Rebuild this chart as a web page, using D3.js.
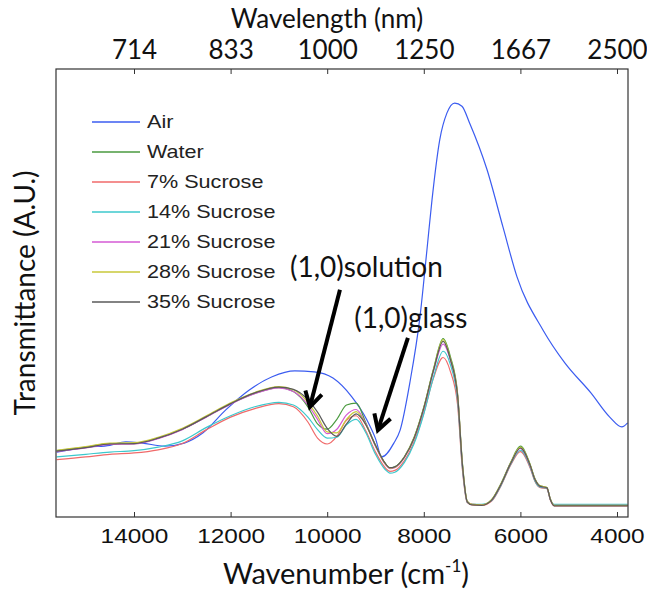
<!DOCTYPE html>
<html lang="en">
<head>
<meta charset="UTF-8">
<title>Transmittance spectra</title>
<script src="https://d3js.org/d3.v7.min.js"></script>
<style>
  body { margin: 0; background: #fff; }
  .title { font-family: Lato, sans-serif; fill: #111; }
  .tick text { font-family: 'Liberation Sans', Arial, sans-serif; fill: #111; }
  .top .tick text { font-family: Lato, sans-serif; }
  .legend text { font-family: 'Liberation Sans', Arial, sans-serif; fill: #222; }
</style>
</head>
<body>
<script>
const width = 647;
const height = 592;

// tick values (wavenumber, cm-1) and the matching wavelength labels (nm)
const bottomTicks = [14000, 12000, 10000, 8000, 6000, 4000];
const wavelengthLabels = ["714", "833", "1000", "1250", "1667", "2500"];

const seriesNames = ["Air", "Water", "7% Sucrose", "14% Sucrose", "21% Sucrose", "28% Sucrose", "35% Sucrose"];
const seriesColors = ["#3b5cf0", "#4a9a3f", "#f06a6a", "#3cc8cc", "#d45ad4", "#c8c83a", "#5a5a5a"];

// air spectrum
const airWavenumbers = [15600,14950,14500,14170,13830,13360,12960,12570,12100,11620,11140,10670,10270,9880,9490,9180,9000,8870,8620,8490,8290,8080,7935,7830,7670,7520,7360,7210,7050,6690,6360,6070,5530,5080,4540,4150,3900,3780];
const airValues = [14.5,15.6,16.0,16.8,16.5,15.8,16.5,18.8,23.9,28.3,31.3,32.6,32.4,31.0,26.8,21.7,17.5,13.4,16.5,19.4,29.9,44.6,59.6,70.8,84.2,90.2,92.4,91.7,87.9,77.5,64.7,53.6,41.7,34.4,27.7,22.3,20.1,21.0];

// liquid samples, shared wavenumber grid
const wavenumbers = [15600,15000,14500,14000,13500,13000,12500,12000,11500,11000,10700,10400,10200,10000,9800,9600,9400,9200,9000,8800,8700,8600,8400,8200,8000,7800,7600,7450,7300,7200,7100,7000,6800,6600,6400,6200,6000,5800,5700,5600,5450,5380,5300,5000,4500,4000,3780];
const water = [14.8,15.6,16.4,16.4,17.6,19.6,22.4,25.3,27.6,28.9,28.0,24.6,20.8,19.6,21.8,25.0,25.4,21.0,16.0,12.0,11.0,11.2,13.5,17.8,24.5,33.0,39.8,35.8,27.5,12.0,3.5,2.8,2.7,3.8,7.5,12.2,15.8,11.8,8.6,7.0,6.6,4.0,2.6,2.6,2.6,2.6,2.6];
const sucrose7 = [12.8,13.4,14.0,14.3,15.0,16.4,19.5,22.3,24.2,25.3,24.6,21.2,17.6,16.3,18.0,21.6,22.6,19.2,14.5,11.0,10.2,10.4,12.6,16.8,23.2,31.0,35.6,32.5,25.0,10.5,3.2,2.7,2.6,3.5,7.0,11.6,14.6,11.0,8.0,6.6,6.3,3.8,2.5,2.5,2.5,2.5,2.5];
const sucrose14 = [13.4,14.0,14.5,14.8,15.6,17.0,20.0,22.6,24.6,25.6,25.0,22.3,19.5,17.6,17.8,20.6,21.8,18.8,14.0,10.6,9.8,10.0,12.2,16.4,23.0,31.2,37.0,34.0,26.0,11.0,3.3,2.8,2.8,3.6,7.1,11.8,14.9,11.2,8.1,6.7,6.4,3.9,2.8,2.8,2.8,2.8,2.8];
const sucrose21 = [14.6,15.4,16.2,16.3,17.5,19.5,22.3,25.2,27.5,28.8,28.0,25.0,21.8,18.6,19.6,22.8,24.0,20.8,15.8,11.8,10.8,11.0,13.3,17.5,24.1,32.5,38.6,35.0,27.0,11.5,3.4,2.8,2.7,3.7,7.3,12.0,15.3,11.5,8.4,6.9,6.5,3.9,2.6,2.6,2.6,2.6,2.6];
const sucrose28 = [14.9,15.7,16.5,16.6,17.8,19.8,22.6,25.5,27.8,29.1,28.4,25.6,22.5,19.0,18.8,21.8,23.5,20.6,15.9,11.9,10.9,11.1,13.4,17.7,24.4,32.9,39.6,35.4,27.2,11.8,3.5,2.8,2.7,3.8,7.4,12.1,15.6,11.7,8.5,7.0,6.6,4.0,2.6,2.6,2.6,2.6,2.6];
const sucrose35 = [14.7,15.5,16.3,16.4,17.6,19.6,22.4,25.3,27.7,29.0,28.5,26.2,23.4,19.8,18.0,20.8,23.0,20.6,16.0,12.0,11.0,11.2,13.4,17.6,24.3,32.7,39.2,35.2,27.0,11.6,3.4,2.7,2.6,3.7,7.3,12.0,15.4,11.6,8.4,6.9,6.5,3.9,2.5,2.5,2.5,2.5,2.5];

// annotations: label anchor, arrow tail and tip, all in (wavenumber, value)
const notes = [
    {text: "(1,0)solution", at: [10770, 53.6], from: [9736, 50.7], to: [10357, 24.6]},
    {text: "(1,0)glass", at: [9440, 42.2], from: [8329, 40.0], to: [8950, 19.4]}
];

const plot = {left: 56, right: 628, top: 69, bottom: 517};

const x = d3.scaleLinear().domain([15615, 3772]).range([plot.left, plot.right]);
const y = d3.scaleLinear().domain([0, 100]).range([plot.bottom, plot.top]);

const svg = d3.select("body").append("svg").attr("width", width).attr("height", height);

const series = [
    {name: seriesNames[0], color: seriesColors[0], pts: airWavenumbers.map((w,i) => [w, airValues[i]])},
    ...[water, sucrose7, sucrose14, sucrose21, sucrose28, sucrose35].map((vals, k) => ({
        name: seriesNames[k+1], color: seriesColors[k+1], pts: wavenumbers.map((w,i) => [w, vals[i]])
    }))
];

const line = d3.line().x(d => x(d[0])).y(d => y(d[1])).curve(d3.curveMonotoneX);

svg.append("g").selectAll("path")
    .data(series).join("path")
    .attr("d", d => line(d.pts))
    .attr("fill", "none")
    .attr("stroke", d => d.color)
    .attr("stroke-width", 1.2);

// frame
svg.append("rect")
    .attr("x", plot.left).attr("y", plot.top)
    .attr("width", plot.right - plot.left).attr("height", plot.bottom - plot.top)
    .attr("fill", "none").attr("stroke", "#333").attr("stroke-width", 1.2);

// bottom axis, ticks pointing in
const bottomAxis = svg.append("g")
    .attr("transform", `translate(0,${plot.bottom})`)
    .call(d3.axisBottom(x).tickValues(bottomTicks).tickSizeInner(-5).tickSizeOuter(0).tickPadding(12).tickFormat(d3.format("d")));
bottomAxis.select(".domain").remove();
bottomAxis.selectAll(".tick line").attr("stroke", "#333");
bottomAxis.selectAll(".tick text").attr("font-size", 20).attr("transform", "scale(1.22,1)");

// top axis with wavelength labels
const topAxis = svg.append("g").attr("class", "top")
    .attr("transform", `translate(0,${plot.top})`)
    .call(d3.axisTop(x).tickValues(bottomTicks).tickSizeInner(-5).tickSizeOuter(0).tickPadding(10)
        .tickFormat((d,i) => wavelengthLabels[i]));
topAxis.select(".domain").remove();
topAxis.selectAll(".tick line").attr("stroke", "#333");
topAxis.selectAll(".tick text").attr("font-size", 26);

// axis titles
svg.append("text").attr("class", "title")
    .attr("x", 327).attr("y", 28)
    .attr("text-anchor", "middle").attr("font-size", 26)
    .text("Wavelength (nm)");

const xt = svg.append("text").attr("class", "title")
    .attr("x", 346).attr("y", 584)
    .attr("text-anchor", "middle").attr("font-size", 29);
xt.append("tspan").text("Wavenumber (cm");
xt.append("tspan").attr("font-size", 17).attr("dy", -12).text("-1");
xt.append("tspan").attr("dy", 12).text(")");

svg.append("text").attr("class", "title")
    .attr("transform", `translate(35,${(plot.top + plot.bottom) / 2}) rotate(-90)`)
    .attr("text-anchor", "middle").attr("font-size", 28)
    .text("Transmittance (A.U.)");

// legend
const legend = svg.append("g").attr("class", "legend");
const rows = legend.selectAll("g").data(series).join("g")
    .attr("transform", (d,i) => `translate(92,${122 + i * 30})`);
rows.append("line").attr("x1", 0).attr("x2", 48)
    .attr("stroke", d => d.color).attr("stroke-width", 1.3);
rows.append("text").attr("dy", "0.36em")
    .attr("font-size", 18)
    .attr("transform", "scale(1.2,1)")
    .attr("x", 55 / 1.2)
    .text(d => d.name);

// annotations
const ann = svg.append("g");
notes.forEach(n => {
    ann.append("text").attr("class", "title")
        .attr("x", x(n.at[0])).attr("y", y(n.at[1]))
        .attr("font-size", 28).text(n.text);
    const x0 = x(n.from[0]), y0 = y(n.from[1]), x1 = x(n.to[0]), y1 = y(n.to[1]);
    const a = Math.atan2(y1 - y0, x1 - x0);
    const hl = 17, ha = Math.PI / 6;
    ann.append("line").attr("x1", x0).attr("y1", y0).attr("x2", x1).attr("y2", y1)
        .attr("stroke", "#000").attr("stroke-width", 4);
    ann.append("path")
        .attr("d", `M${x1 - hl * Math.cos(a - ha)},${y1 - hl * Math.sin(a - ha)}L${x1},${y1}L${x1 - hl * Math.cos(a + ha)},${y1 - hl * Math.sin(a + ha)}`)
        .attr("fill", "none").attr("stroke", "#000").attr("stroke-width", 4)
        .attr("stroke-linejoin", "miter");
});
</script>
</body>
</html>
